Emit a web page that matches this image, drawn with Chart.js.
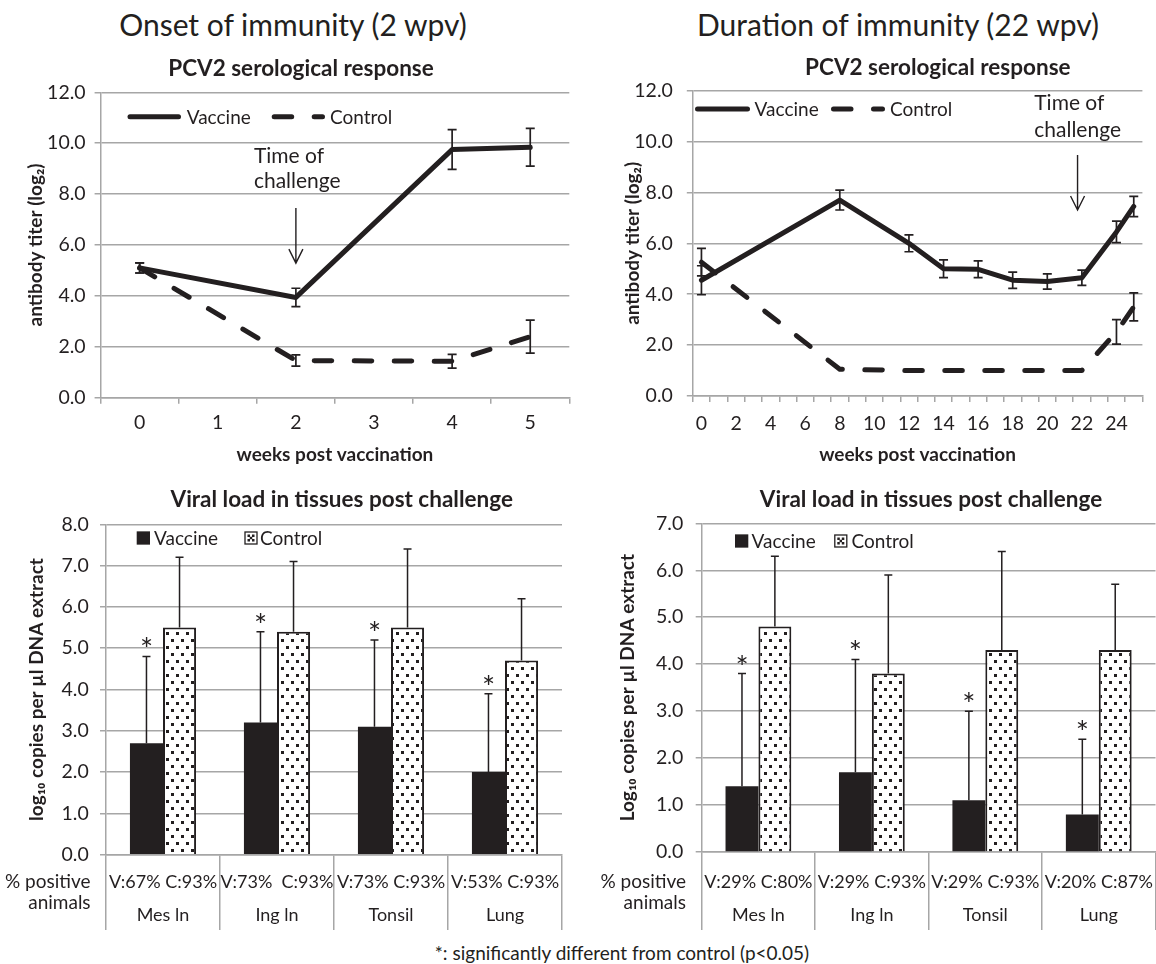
<!DOCTYPE html>
<html><head><meta charset="utf-8"><title>PCV2 vaccine: onset and duration of immunity</title>
<script src="https://cdn.jsdelivr.net/npm/chart.js@4.4.1/dist/chart.umd.min.js"></script>
<style>
html,body{margin:0;padding:0;background:#fff;}
body{width:1156px;height:964px;position:relative;overflow:hidden;font-family:Lato,"Open Sans","DejaVu Sans",sans-serif;color:#231f20;}
canvas{position:absolute;}
.txt{position:absolute;white-space:nowrap;transform:translate(-50%,-50%);line-height:1;}
.head{font-size:30px;font-weight:400;}
</style></head><body>
<div class="txt head" style="left:293px;top:24px">Onset of immunity (2 wpv)</div>
<div class="txt head" style="left:898px;top:24px">Duration of immunity (22 wpv)</div>
<canvas id="onsetTiter" width="590" height="440" style="left:0;top:40px"></canvas>
<canvas id="durationTiter" width="578" height="440" style="left:578px;top:40px"></canvas>
<canvas id="onsetLoad" width="578" height="470" style="left:0;top:470px"></canvas>
<canvas id="durationLoad" width="578" height="470" style="left:578px;top:470px"></canvas>
<div class="txt" style="left:622px;top:952px;font-size:19px">*: significantly different from control (p&lt;0.05)</div>
<script>
// ---------------- data ----------------
const onsetWeeks = ['0','1','2','3','4','5'];
const onsetVaccine    = [5.1, null, 3.94, null, 9.75, 9.84];
const onsetVaccineErr = [0.2, null, 0.36, null, 0.78, 0.74];
const onsetControl    = [5.1, null, 1.46, null, 1.43, 2.4];
const onsetControlErr = [0.2, null, 0.22, null, 0.27, 0.65];

const durationWeeks = ['0','1','2','3','4','5','6','7','8','9','10','11','12','13','14','15','16','17','18','19','20','21','22','23','24','25'];
const durationVaccine    = [4.55,null,null,null,null,null,null,null,7.7,null,null,null,6.0,null,5.0,null,4.98,null,4.55,null,4.5,null,4.65,null,6.45,7.45];
const durationVaccineErr = [0.57,null,null,null,null,null,null,null,0.39,null,null,null,0.33,null,0.35,null,0.33,null,0.32,null,0.3,null,0.3,null,0.42,0.4];
const durationControl    = [5.26,null,null,null,null,null,null,null,1.05,null,null,null,1.0,null,1.0,null,1.0,null,1.0,null,1.0,null,1.0,null,2.52,3.5];
const durationControlErr = [0.54,null,null,null,null,null,null,null,null,null,null,null,null,null,null,null,null,null,null,null,null,null,null,null,0.48,0.55];

const tissues = ['Mes ln','Ing ln','Tonsil','Lung'];
const onsetPositive = ['V:67% C:93%','V:73%  C:93%','V:73% C:93%','V:53% C:93%'];
const onsetLoadVaccine    = [2.7, 3.2, 3.1, 2.0];
const onsetLoadVaccineErr = [2.1, 2.2, 2.1, 1.9];
const onsetLoadControl    = [5.5, 5.4, 5.5, 4.7];
const onsetLoadControlErr = [1.7, 1.7, 1.9, 1.5];
const onsetSignificant    = [true, true, true, true];

const durationPositive = ['V:29% C:80%','V:29% C:93%','V:29% C:93%','V:20% C:87%'];
const durationLoadVaccine    = [1.4, 1.7, 1.1, 0.8];
const durationLoadVaccineErr = [2.4, 2.4, 1.9, 1.6];
const durationLoadControl    = [4.8, 3.8, 4.3, 4.3];
const durationLoadControlErr = [1.5, 2.1, 2.1, 1.4];
const durationSignificant    = [true, true, true, true];

// ---------------- style ----------------
const FONT = 'Lato, "Open Sans", "DejaVu Sans", sans-serif';
const INK = '#231f20';
const GRID = '#a6a6a6';
const DASH = [17.5, 22.5];
const LINE_W = 5;
Chart.defaults.font.family = FONT;
Chart.defaults.color = INK;

function makePattern(ctx) {
  const c = document.createElement('canvas'); c.width = 10; c.height = 14;
  const g = c.getContext('2d');
  g.fillStyle = '#fff'; g.fillRect(0, 0, 10, 14);
  g.fillStyle = INK; g.fillRect(1, 1, 3, 3); g.fillRect(6, 8, 3, 3);
  return ctx.createPattern(c, 'repeat');
}

function errorBars(sets, cap, lw) {
  return {
    id: 'errorBars',
    afterDatasetsDraw(chart) {
      const ctx = chart.ctx, x = chart.scales.x, y = chart.scales.y;
      const isBar = chart.config.type === 'bar';
      ctx.save();
      ctx.strokeStyle = INK; ctx.lineWidth = lw; ctx.lineCap = 'butt'; ctx.setLineDash([]);
      for (const s of sets) {
        const vals = chart.data.datasets[s.dataset].data;
        const meta = chart.getDatasetMeta(s.dataset);
        s.err.forEach((e, i) => {
          const v = vals[i];
          if (v == null || e == null) return;
          const px = isBar ? meta.data[i].x : x.getPixelForValue(i);
          const top = y.getPixelForValue(v + e);
          const bot = y.getPixelForValue(s.plusOnly ? v : v - e);
          ctx.beginPath();
          ctx.moveTo(px, top); ctx.lineTo(px, bot);
          ctx.moveTo(px - cap, top); ctx.lineTo(px + cap, top);
          if (!s.plusOnly) { ctx.moveTo(px - cap, bot); ctx.lineTo(px + cap, bot); }
          ctx.stroke();
          if (s.stars && s.stars[i]) {
            ctx.fillStyle = INK; ctx.font = '31px ' + FONT;
            ctx.textAlign = 'center'; ctx.textBaseline = 'alphabetic';
            ctx.fillText('*', px, top + 4);
          }
        });
      }
      ctx.restore();
    }
  };
}

function panel(cfg) {
  return {
    id: 'panel',
    afterDraw(chart) {
      const ctx = chart.ctx, x = chart.scales.x, y = chart.scales.y;
      ctx.save();
      ctx.fillStyle = INK; ctx.strokeStyle = INK;
      ctx.font = 'bold 22.5px ' + FONT; ctx.textAlign = 'center'; ctx.textBaseline = 'middle';
      ctx.fillText(cfg.title, cfg.titleX, cfg.titleY);
      ctx.font = '19px ' + FONT; ctx.textAlign = 'left';
      for (const it of cfg.legend) {
        if (it.kind === 'line' || it.kind === 'dash') {
          ctx.save(); ctx.lineWidth = LINE_W; ctx.lineCap = 'round';
          ctx.setLineDash(it.kind === 'dash' ? DASH : []);
          ctx.beginPath(); ctx.moveTo(it.x0 + 2.5, it.y); ctx.lineTo(it.x1 - 2.5, it.y); ctx.stroke();
          ctx.restore();
        } else if (it.kind === 'solid') {
          ctx.fillRect(it.x0, it.y - it.s / 2, it.s, it.s);
        } else if (it.kind === 'dots') {
          ctx.save();
          ctx.fillStyle = '#fff'; ctx.fillRect(it.x0, it.y - it.s / 2, it.s, it.s);
          ctx.fillStyle = INK;
          ctx.fillRect(it.x0 + 2.5, it.y - it.s / 2 + 2.5, 2.5, 2.5);
          ctx.fillRect(it.x0 + it.s - 5, it.y - it.s / 2 + 2.5, 2.5, 2.5);
          ctx.fillRect(it.x0 + 2.5, it.y + it.s / 2 - 5, 2.5, 2.5);
          ctx.fillRect(it.x0 + it.s - 5, it.y + it.s / 2 - 5, 2.5, 2.5);
          ctx.fillRect(it.x0 + it.s / 2 - 1.25, it.y - 1.25, 2.5, 2.5);
          ctx.lineWidth = 1.3; ctx.strokeRect(it.x0, it.y - it.s / 2, it.s, it.s);
          ctx.restore();
        }
        ctx.fillText(it.text, it.tx, it.y + 1);
      }
      if (cfg.note) {
        const n = cfg.note;
        const px = x.getPixelForValue(n.at);
        ctx.font = '21px ' + FONT; ctx.textAlign = 'left'; ctx.textBaseline = 'middle';
        n.lines.forEach(([t, v]) => ctx.fillText(t, px + n.dx, y.getPixelForValue(v)));
        const y0 = y.getPixelForValue(n.from), y1 = y.getPixelForValue(n.to);
        ctx.lineWidth = 1.4;
        ctx.beginPath();
        ctx.moveTo(px, y0); ctx.lineTo(px, y1);
        ctx.moveTo(px - 7, y1 - 14); ctx.lineTo(px, y1); ctx.lineTo(px + 7, y1 - 14);
        ctx.stroke();
      }
      if (cfg.rows) {
        ctx.font = '19px ' + FONT; ctx.textAlign = 'right'; ctx.textBaseline = 'middle';
        cfg.rows.lines.forEach(([t, yy]) => ctx.fillText(t, cfg.rows.x, yy));
      }
      ctx.restore();
    }
  };
}

function titerChart(id, labels, vac, vacErr, ctl, ctlErr, geo, panelCfg, everyOther) {
  const ctx = document.getElementById(id).getContext('2d');
  const xTicks = {autoSkip: false, maxRotation: 0, minRotation: 0, font: {size: 19.5}, color: INK, padding: geo.xPad};
  if (everyOther) xTicks.callback = (v, i) => (i % 2 === 0 ? labels[i] : '');
  return new Chart(ctx, {
    type: 'line',
    data: {labels, datasets: [
      {label: 'Vaccine', data: vac, borderColor: INK, backgroundColor: INK, borderWidth: LINE_W, pointRadius: 0, pointHoverRadius: 0,
       spanGaps: true, tension: 0, fill: false, borderCapStyle: 'round', borderJoinStyle: 'round'},
      {label: 'Control', data: ctl, borderColor: INK, backgroundColor: INK, borderWidth: LINE_W, borderDash: DASH, pointRadius: 0, pointHoverRadius: 0,
       spanGaps: true, tension: 0, fill: false, borderCapStyle: 'round', borderJoinStyle: 'round'}
    ]},
    options: {
      responsive: false, animation: false, events: [],
      layout: {padding: geo.pad},
      plugins: {legend: {display: false}, tooltip: {enabled: false}, title: {display: false}},
      scales: {
        x: {type: 'category', offset: true,
            grid: {offset: true, drawOnChartArea: false, drawTicks: true, tickLength: 6, color: GRID, lineWidth: 1.5},
            border: {display: true, color: GRID, width: 1.5},
            ticks: xTicks,
            title: {display: true, text: 'weeks post vaccination', font: {size: 19, weight: 'bold'}, color: INK, padding: {top: 0, bottom: geo.xTitlePad}},
            afterFit(s) { s.height = 70; }},
        y: {min: 0, max: 12,
            ticks: {stepSize: 2, font: {size: 19.5}, color: INK, padding: geo.yPad, callback: v => Number(v).toFixed(1)},
            grid: {color: GRID, lineWidth: 1.5, tickLength: 6, drawTicks: true},
            border: {display: true, color: GRID, width: 1.5},
            title: {display: true, text: 'antibody titer (log₂)', font: {size: 19, weight: 'bold'}, color: INK, padding: {top: geo.yTitlePad, bottom: 0}},
            afterFit(s) { s.width = geo.yWidth; }}
      }
    },
    plugins: [
      errorBars([{dataset: 0, err: vacErr}, {dataset: 1, err: ctlErr}], 4.5, 1.7),
      panel(panelCfg)
    ]
  });
}

function loadChart(id, positive, vac, vacErr, ctl, ctlErr, sig, yMax, yTitle, geo, panelCfg) {
  const ctx = document.getElementById(id).getContext('2d');
  const pat = makePattern(ctx);
  return new Chart(ctx, {
    type: 'bar',
    data: {labels: tissues, datasets: [
      {label: 'Vaccine', data: vac, backgroundColor: INK, borderWidth: 0, categoryPercentage: 0.58, barPercentage: 1},
      {label: 'Control', data: ctl, backgroundColor: pat, borderColor: INK, borderWidth: 2, categoryPercentage: 0.58, barPercentage: 1}
    ]},
    options: {
      responsive: false, animation: false, events: [],
      layout: {padding: geo.pad},
      plugins: {legend: {display: false}, tooltip: {enabled: false}, title: {display: false}},
      scales: {
        x: {grid: {offset: true, drawOnChartArea: false, drawTicks: true, tickLength: geo.tableDepth, color: GRID, lineWidth: 1.5},
            border: {display: true, color: GRID, width: 1.5},
            ticks: {autoSkip: false, maxRotation: 0, minRotation: 0, font: {size: 18, lineHeight: 16.5 / 18}, color: INK, padding: -56.25,
                    callback: (v, i) => [positive[i], '', tissues[i]]},
            afterFit(s) { s.height = 85; }},
        y: {min: 0, max: yMax,
            ticks: {stepSize: 1, font: {size: 19.5}, color: INK, padding: geo.yPad, callback: v => Number(v).toFixed(1)},
            grid: {color: GRID, lineWidth: 1.5, tickLength: 6, drawTicks: true},
            border: {display: true, color: GRID, width: 1.5},
            title: {display: true, text: yTitle, font: {size: 19, weight: 'bold'}, color: INK, padding: {top: geo.yTitlePad, bottom: 0}},
            afterFit(s) { s.width = geo.yWidth; }}
      }
    },
    plugins: [
      errorBars([{dataset: 0, err: vacErr, plusOnly: true, stars: sig}, {dataset: 1, err: ctlErr, plusOnly: true}], 4, 1.5),
      panel(panelCfg)
    ]
  });
}

titerChart('onsetTiter', onsetWeeks, onsetVaccine, onsetVaccineErr, onsetControl, onsetControlErr,
  {pad: {top: 52.3, right: 20.7, bottom: 12.3, left: 0}, yWidth: 100.6, yPad: 9, xPad: 7.6, xTitlePad: 1.3, yTitlePad: 24.6},
  {title: 'PCV2 serological response', titleX: 301, titleY: 28.3,
   legend: [{kind: 'line', x0: 127.5, x1: 181, y: 76.7, tx: 186.7, text: 'Vaccine'},
            {kind: 'dash', x0: 271.7, x1: 325, y: 76.7, tx: 330, text: 'Control'}],
   note: {at: 2, dx: -42, lines: [['Time of', 9.49], ['challenge', 8.49]], from: 7.45, to: 5.29}},
  false);

titerChart('durationTiter', durationWeeks, durationVaccine, durationVaccineErr, durationControl, durationControlErr,
  {pad: {top: 50.7, right: 13.6, bottom: 14, left: 0}, yWidth: 114.8, yPad: 14, xPad: 9.6, xTitlePad: 0, yTitlePad: 43.9},
  {title: 'PCV2 serological response', titleX: 359.8, titleY: 28,
   legend: [{kind: 'line', x0: 117, x1: 172, y: 69, tx: 176.6, text: 'Vaccine'},
            {kind: 'dash', x0: 253, x1: 307, y: 69, tx: 312, text: 'Control'}],
   note: {at: 21.75, dx: -43.3, lines: [['Time of', 11.52], ['challenge', 10.46]], from: 9.47, to: 7.31}},
  true);

loadChart('onsetLoad', onsetPositive, onsetLoadVaccine, onsetLoadVaccineErr, onsetLoadControl, onsetLoadControlErr, onsetSignificant,
  8, 'log₁₀ copies per µl DNA extract',
  {pad: {top: 54.3, right: 16, bottom: 0.3, left: 0}, yWidth: 106, yPad: 11.3, yTitlePad: 25.6, tableDepth: 75.3},
  {title: 'Viral load in tissues post challenge', titleX: 341.7, titleY: 30,
   legend: [{kind: 'solid', x0: 136.7, s: 13.3, y: 68, tx: 154, text: 'Vaccine'},
            {kind: 'dots', x0: 245, s: 12, y: 68, tx: 260, text: 'Control'}],
   rows: {x: 90.6, lines: [['% positive', 412], ['animals', 433]]}});

loadChart('durationLoad', durationPositive, durationLoadVaccine, durationLoadVaccineErr, durationLoadControl, durationLoadControlErr, durationSignificant,
  7, 'Log₁₀ copies per µl DNA extract',
  {pad: {top: 53.3, right: 0.5, bottom: 3, left: 0}, yWidth: 123.7, yPad: 12.5, yTitlePad: 38.4, tableDepth: 78},
  {title: 'Viral load in tissues post challenge', titleX: 353, titleY: 30,
   legend: [{kind: 'solid', x0: 157, s: 13.3, y: 71, tx: 173.6, text: 'Vaccine'},
            {kind: 'dots', x0: 256.8, s: 12, y: 71, tx: 273.4, text: 'Control'}],
   rows: {x: 108, lines: [['% positive', 412], ['animals', 433]]}});
</script>
</body></html>
